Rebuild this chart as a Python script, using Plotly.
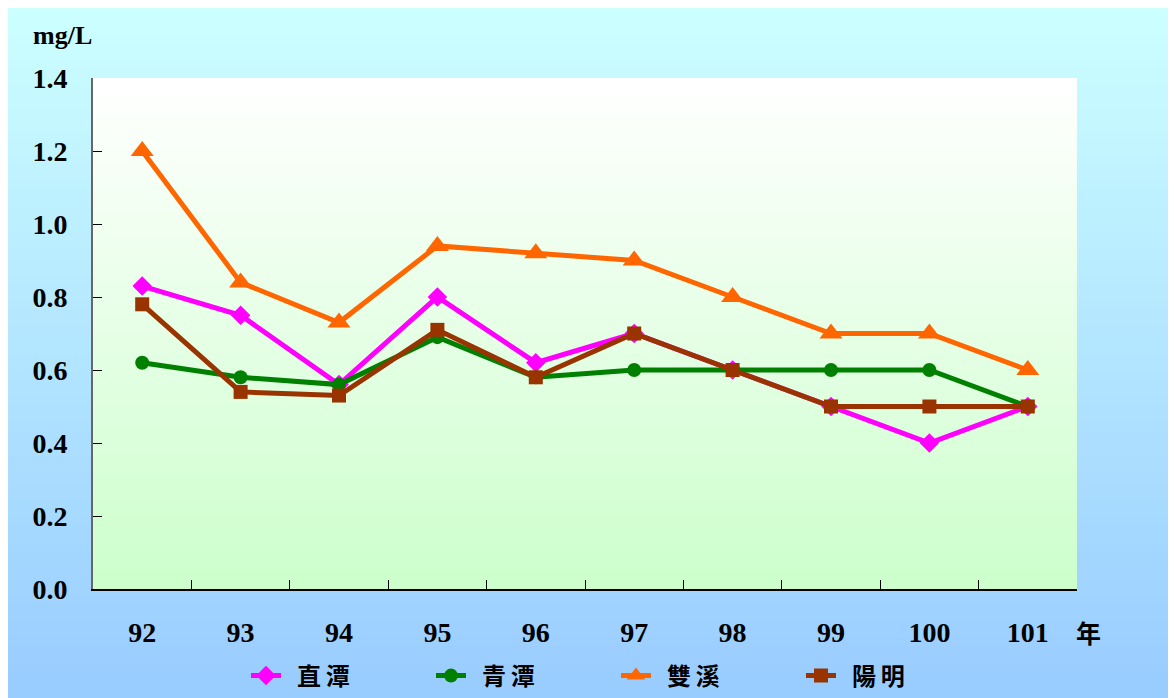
import plotly.graph_objects as go

years = ["92", "93", "94", "95", "96", "97", "98", "99", "100", "101"]
zhitan = [0.83, 0.75, 0.56, 0.80, 0.62, 0.70, 0.60, 0.50, 0.40, 0.50]
qingtan = [0.62, 0.58, 0.56, 0.69, 0.58, 0.60, 0.60, 0.60, 0.60, 0.50]
shuangxi = [1.20, 0.84, 0.73, 0.94, 0.92, 0.90, 0.80, 0.70, 0.70, 0.60]
yangming = [0.78, 0.54, 0.53, 0.71, 0.58, 0.70, 0.60, 0.50, 0.50, 0.50]
names = ["直\u2009潭", "青\u2009潭", "雙\u2009溪", "陽\u2009明"]

# page body has an 8px margin: figure occupies screen x 8..1176, y 8..698
OFF = 8
W, H = 1176 - OFF, 698 - OFF
L, R, T, B = 93, 1077, 78, 589  # plot area in screen pixels


def px2x(px):
    return (px - L) / (R - L)


def py2y(py):
    return (B - py) / (B - T)


def lerp(c1, c2, t):
    return "rgb(%d,%d,%d)" % tuple(round(a + (b - a) * t) for a, b in zip(c1, c2))


shapes = []
# outer background gradient
n = 80
y0p, y1p = OFF, 698
for i in range(n):
    a = y0p + (y1p - y0p) * i / n
    b = y0p + (y1p - y0p) * (i + 1) / n + 1
    shapes.append(dict(type="rect", xref="paper", yref="paper",
                       x0=px2x(OFF), x1=px2x(1176), y0=py2y(min(b, y1p)), y1=py2y(a),
                       fillcolor=lerp((204, 255, 255), (153, 204, 255), i / (n - 1)),
                       line=dict(width=0), layer="below"))
# plot area gradient
m = 80
for i in range(m):
    a = i / m
    b = min((i + 1) / m + 0.004, 1)
    shapes.append(dict(type="rect", xref="paper", yref="paper",
                       x0=0, x1=1, y0=1 - b, y1=1 - a,
                       fillcolor=lerp((255, 255, 255), (204, 255, 204), i / (m - 1)),
                       line=dict(width=0), layer="below"))

fig = go.Figure()
series = [
    (zhitan, "#FF00FF", "diamond", 15),
    (qingtan, "#008000", "circle", 14),
    (shuangxi, "#FF6600", "triangle-up", 20),
    (yangming, "#993300", "square", 14),
]
for (vals, col, sym, sz), nm in zip(series, names):
    fig.add_trace(go.Scatter(
        x=years, y=vals, name="  " + nm, mode="lines+markers",
        line=dict(color=col, width=5),
        marker=dict(symbol=sym, size=sz, color=col),
    ))

tickfont = dict(family="Liberation Serif", size=28, color="black", weight="bold")
fig.update_layout(
    width=W, height=H,
    margin=dict(l=L - OFF, r=1176 - R, t=T - OFF, b=698 - B, pad=0, autoexpand=False),
    paper_bgcolor="white",
    plot_bgcolor="rgba(0,0,0,0)",
    shapes=shapes,
    showlegend=True,
    legend=dict(orientation="h", x=px2x(246), y=py2y(676), xanchor="left", yanchor="middle",
                bgcolor="rgba(0,0,0,0)", entrywidth=140, entrywidthmode="pixels",
                font=dict(family="Noto Sans CJK TC", size=24, color="black", weight="bold")),
    xaxis=dict(type="category", range=[-0.5, 9.5], tickson="boundaries", ticks="inside",
               ticklen=9, tickcolor="black", tickwidth=1, showline=True, linecolor="black",
               linewidth=2, showgrid=False, zeroline=False, tickfont=tickfont,
               ticklabelstandoff=17),
    yaxis=dict(range=[0, 1.4], dtick=0.2, tickformat=".1f", ticks="inside", ticklen=9,
               tickcolor="black", tickwidth=1, showline=True, linecolor="#666666", linewidth=2,
               showgrid=False, zeroline=False, tickfont=tickfont, ticklabelstandoff=18),
    annotations=[
        dict(text="mg/L", xref="paper", yref="paper", x=px2x(62), y=py2y(36),
             showarrow=False, xanchor="center", yanchor="middle",
             font=dict(family="Liberation Serif", size=26, color="black", weight="bold")),
        dict(text="年", xref="paper", yref="paper", x=px2x(1088), y=py2y(632),
             showarrow=False, xanchor="center", yanchor="middle",
             font=dict(family="Noto Sans CJK TC", size=25, color="black", weight="bold")),
    ],
)

fig.write_html("out.html")
